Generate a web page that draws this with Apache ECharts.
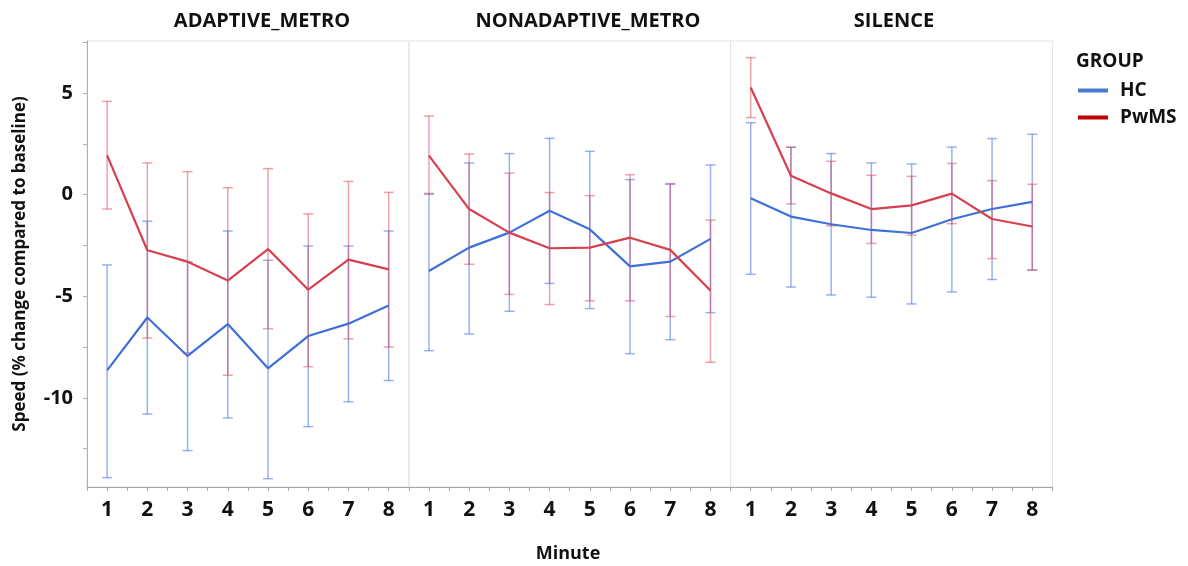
<!DOCTYPE html>
<html><head><meta charset="utf-8">
<script src="https://cdn.jsdelivr.net/npm/echarts@6/dist/echarts.min.js"></script>
<style>html,body{margin:0;padding:0;background:#fff}#c{width:1188px;height:566px}</style>
</head><body><div id="c"></div>
<script>
// ---- data ----
const minutes = [1, 2, 3, 4, 5, 6, 7, 8];
const panels = ['ADAPTIVE_METRO', 'NONADAPTIVE_METRO', 'SILENCE'];
const groups = ['HC', 'PwMS'];
const yLabelValues = [5, 0, -5, -10];

// ADAPTIVE_METRO
const hcMeanAdaptive  = [-8.65, -6.05, -7.94, -6.37, -8.55, -6.96, -6.35, -5.46];
const hcLowAdaptive   = [-13.93, -10.80, -12.60, -10.99, -13.98, -11.42, -10.20, -9.15];
const hcHighAdaptive  = [-3.46, -1.31, -3.30, -1.79, -3.23, -2.53, -2.53, -1.79];
const pwMeanAdaptive  = [1.93, -2.74, -3.30, -4.23, -2.68, -4.68, -3.20, -3.68];
const pwLowAdaptive   = [-0.71, -7.06, -7.78, -8.89, -6.60, -8.47, -7.10, -7.50];
const pwHighAdaptive  = [4.59, 1.56, 1.13, 0.34, 1.28, -0.95, 0.65, 0.11];

// NONADAPTIVE_METRO
const hcMeanNonadaptive = [-3.76, -2.61, -1.87, -0.79, -1.71, -3.53, -3.30, -2.18];
const hcLowNonadaptive  = [-7.68, -6.86, -5.74, -4.37, -5.61, -7.83, -7.14, -5.81];
const hcHighNonadaptive = [0.06, 1.56, 2.02, 2.77, 2.13, 0.74, 0.54, 1.46];
const pwMeanNonadaptive = [1.92, -0.71, -1.87, -2.64, -2.61, -2.12, -2.72, -4.72];
const pwLowNonadaptive  = [0.01, -3.43, -4.91, -5.41, -5.23, -5.23, -6.00, -8.25];
const pwHighNonadaptive = [3.87, 2.00, 1.06, 0.10, -0.05, 0.98, 0.51, -1.25];

// SILENCE
const hcMeanSilence = [-0.18, -1.08, -1.46, -1.74, -1.89, -1.21, -0.71, -0.36];
const hcLowSilence  = [-3.92, -4.55, -4.94, -5.05, -5.38, -4.79, -4.18, -3.72];
const hcHighSilence = [3.54, 2.33, 2.02, 1.56, 1.51, 2.34, 2.76, 2.97];
const pwMeanSilence = [5.27, 0.93, 0.06, -0.71, -0.53, 0.05, -1.20, -1.57];
const pwLowSilence  = [3.79, -0.46, -1.54, -2.40, -2.00, -1.43, -3.15, -3.71];
const pwHighSilence = [6.74, 2.33, 1.64, 0.95, 0.90, 1.53, 0.69, 0.51];

// ---- build ----
const panelData = [
  {hc: [hcMeanAdaptive, hcLowAdaptive, hcHighAdaptive], pw: [pwMeanAdaptive, pwLowAdaptive, pwHighAdaptive]},
  {hc: [hcMeanNonadaptive, hcLowNonadaptive, hcHighNonadaptive], pw: [pwMeanNonadaptive, pwLowNonadaptive, pwHighNonadaptive]},
  {hc: [hcMeanSilence, hcLowSilence, hcHighSilence], pw: [pwMeanSilence, pwLowSilence, pwHighSilence]}
];

const FONT = '"Open Sans", "Noto Sans", sans-serif';
const BLUE = '#3f6fd9', RED = '#d6404f';
const BLUE_EB = 'rgba(70,115,225,0.55)', RED_EB = 'rgba(220,70,90,0.5)';
const gridLeft = 87, gridW = 321.8, gridTop = 41, gridH = 446;
const Y_MIN = -14.39, Y_MAX = 7.56;
const titleCenters = [262, 588, 894];

const grids = [], xAxes = [], yAxes = [], series = [];
panels.forEach((p, i) => {
  grids.push({left: gridLeft + i * gridW, top: gridTop, width: gridW, height: gridH,
    show: true, borderColor: '#e3e5e0', borderWidth: 1, backgroundColor: 'transparent'});
  xAxes.push({type: 'value', gridIndex: i, min: 0.5, max: 8.5, interval: 0.5,
    axisLine: {show: true, onZero: false, lineStyle: {color: '#a6a6a6', width: 1}},
    axisTick: {show: true, length: 4, lineStyle: {color: '#a6a6a6'}},
    splitLine: {show: false},
    axisLabel: {show: true, margin: 13, color: '#111', fontFamily: FONT, fontWeight: 'bold', fontSize: 21,
      formatter: v => (Number.isInteger(v) && minutes.indexOf(v) >= 0) ? String(v) : ''}
  });
  yAxes.push({type: 'value', gridIndex: i, min: Y_MIN, max: Y_MAX,
    axisLine: {show: i === 0, onZero: false, lineStyle: {color: '#b0b0b0'}},
    axisTick: {show: i === 0, length: 4, lineStyle: {color: '#b0b0b0'},
      customValues: [7.5, 5, 2.5, 0, -2.5, -5, -7.5, -10, -12.5]},
    splitLine: {show: false},
    axisLabel: {show: i === 0, customValues: yLabelValues, margin: 14, color: '#111', fontFamily: FONT, fontWeight: 'bold', fontSize: 20},
    name: i === 0 ? 'Speed (% change compared to baseline)' : '',
    nameLocation: 'middle', nameGap: 58, nameRotate: 90,
    nameTextStyle: {color: '#111', fontFamily: FONT, fontWeight: 'bold', fontSize: 17}
  });
  const d = panelData[i];
  [['HC', d.hc, BLUE, BLUE_EB], ['PwMS', d.pw, RED, RED_EB]].forEach(([name, arr, col, ebcol]) => {
    const [mean, low, high] = arr;
    series.push({
      type: 'custom', name: name, xAxisIndex: i, yAxisIndex: i, z: 2, silent: true,
      data: minutes.map((m, k) => [m, low[k], high[k]]),
      renderItem: (params, api) => {
        const x = api.value(0);
        const lo = api.coord([x, api.value(1)]);
        const hi = api.coord([x, api.value(2)]);
        const hw = 5;
        const st = {stroke: ebcol, lineWidth: 1.5};
        return {type: 'group', children: [
          {type: 'line', shape: {x1: lo[0], y1: lo[1], x2: hi[0], y2: hi[1]}, style: st},
          {type: 'line', shape: {x1: lo[0] - hw, y1: lo[1], x2: lo[0] + hw, y2: lo[1]}, style: st},
          {type: 'line', shape: {x1: hi[0] - hw, y1: hi[1], x2: hi[0] + hw, y2: hi[1]}, style: st}
        ]};
      }
    });
    series.push({
      type: 'line', name: name, xAxisIndex: i, yAxisIndex: i, z: 3, silent: true,
      data: minutes.map((m, k) => [m, mean[k]]),
      symbol: 'none', lineStyle: {color: col, width: 2.2}, itemStyle: {color: col}
    });
  });
});

const graphic = panels.map((p, i) => ({
  type: 'text', x: titleCenters[i], y: 21,
  style: {text: p, fill: '#111', font: 'bold 20px ' + FONT, textAlign: 'center', textVerticalAlign: 'middle'}
}));
graphic.push({type: 'text', x: 568, y: 554,
  style: {text: 'Minute', fill: '#111', font: 'bold 18px ' + FONT, textAlign: 'center', textVerticalAlign: 'middle'}});
graphic.push({type: 'text', x: 1076, y: 62,
  style: {text: 'GROUP', fill: '#111', font: 'bold 19px ' + FONT, textAlign: 'left', textVerticalAlign: 'middle'}});

const chart = echarts.init(document.getElementById('c'));
chart.setOption({
  animation: false,
  backgroundColor: '#fff',
  grid: grids, xAxis: xAxes, yAxis: yAxes, series: series, graphic: graphic,
  legend: {
    orient: 'vertical', left: 1073, top: 76, itemGap: 8, itemWidth: 30, itemHeight: 4,
    icon: 'rect',
    data: [
      {name: 'HC', itemStyle: {color: '#4a7bd0'}},
      {name: 'PwMS', itemStyle: {color: '#c00000'}}
    ],
    textStyle: {color: '#111', fontFamily: FONT, fontWeight: 'bold', fontSize: 19, padding: [0, 0, 0, 7]}
  }
});
</script></body></html>
